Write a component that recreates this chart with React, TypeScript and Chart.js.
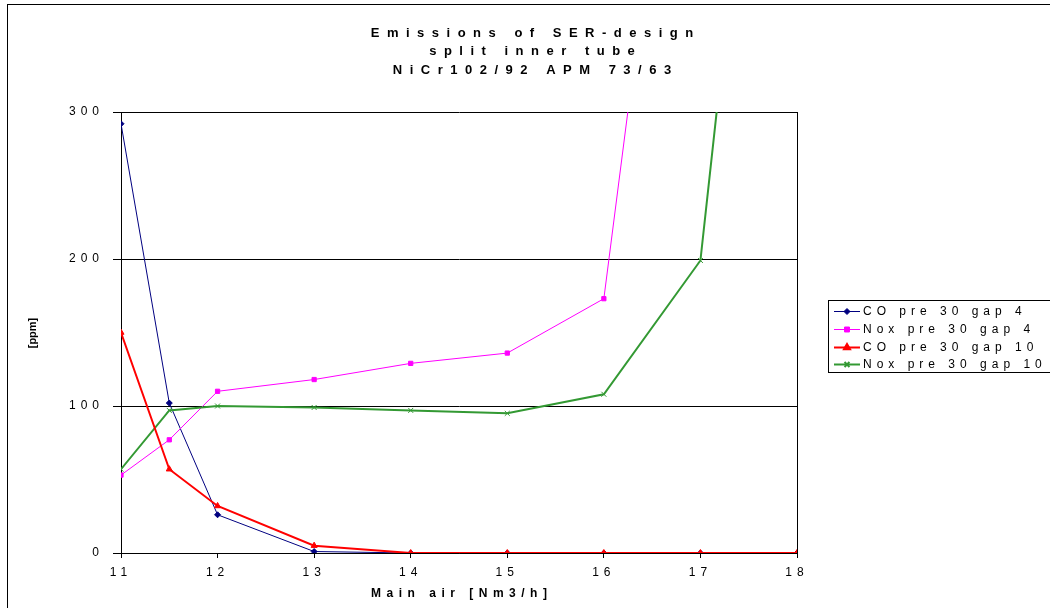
import React, { useEffect, useRef } from "react";
import { Chart, registerables } from "chart.js";
import { drawPoint } from "chart.js/helpers";

Chart.register(...registerables);

const titleLines = ["Emissions of SER-design", "split inner tube", "NiCr102/92 APM 73/63"];
const xTitle = "Main air [Nm3/h]";
const yTitle = "[ppm]";
const xValues = [11, 11.5, 12, 13, 14, 15, 16, 17, 18];
const coGap4 = [292, 102, 26, 1, 0, 0, 0, 0, 0];
const noxGap4 = [53, 77, 110, 118, 129, 136, 173, 685, null];
const coGap10 = [150, 57, 32, 5, 0, 0, 0, 0, 0];
const noxGap10 = [57, 97, 100, 99, 97, 95, 108, 199, 800];
const seriesLabels = ["CO pre 30 gap 4", "Nox pre 30 gap 4", "CO pre 30 gap 10", "Nox pre 30 gap 10"];
const yTicks = [0, 100, 200, 300];

const FONT = '"Liberation Sans", Arial, sans-serif';

const seriesStyles = [
  { color: "#000080", width: 1, point: "rectRot", radius: 3, order: 3 },
  { color: "#FF00FF", width: 1, point: "rect", radius: 3, order: 2 },
  { color: "#FF0000", width: 2, point: "triangle", radius: 3.5, order: 0 },
  { color: "#339933", width: 2, point: "crossRot", radius: 3.5, order: 1 },
];

const seriesValues = [coGap4, noxGap4, coGap10, noxGap10];

const decorPlugin = {
  id: "decor",
  beforeDraw(chart: any) {
    (chart.ctx as any).letterSpacing = "5px";
  },
  afterDraw(chart: any) {
    const ctx = chart.ctx as any;
    ctx.save();
    ctx.letterSpacing = "0px";
    ctx.strokeStyle = "#000";
    ctx.lineWidth = 1;
    ctx.strokeRect(7.5, 4.5, 1200, 800);

    ctx.fillStyle = "#000";
    ctx.textAlign = "center";
    ctx.textBaseline = "middle";
    ctx.font = `bold 13px ${FONT}`;
    ctx.letterSpacing = "7.5px";
    titleLines.forEach((t, i) => ctx.fillText(t, 532 + 3.75, 33 + i * 18.7));

    ctx.font = `bold 12px ${FONT}`;
    ctx.letterSpacing = "5.5px";
    ctx.fillText(xTitle, 459 + 2.75, 594);

    ctx.save();
    ctx.letterSpacing = "0px";
    ctx.translate(33, 333);
    ctx.rotate(-Math.PI / 2);
    ctx.font = `bold 11px ${FONT}`;
    ctx.fillText(yTitle, 0, 0);
    ctx.restore();

    // legend
    ctx.letterSpacing = "0px";
    ctx.strokeStyle = "#000";
    ctx.lineWidth = 1;
    ctx.strokeRect(828.5, 300.5, 400, 72);
    ctx.font = `12px ${FONT}`;
    ctx.textAlign = "left";
    seriesLabels.forEach((label, i) => {
      const s = seriesStyles[i];
      const y = Math.round(311 + i * 17.8) + 0.5;
      ctx.strokeStyle = s.color;
      ctx.fillStyle = s.color;
      ctx.lineWidth = s.width;
      ctx.beginPath();
      ctx.moveTo(834, y);
      ctx.lineTo(860, y);
      ctx.stroke();
      drawPoint(ctx, { pointStyle: s.point, radius: s.point === "rect" ? 3.5 : s.radius, rotation: 0, borderWidth: 1 }, 847, y);
      ctx.fillStyle = "#000";
      ctx.letterSpacing = "5px";
      ctx.fillText(label, 863, y);
      ctx.letterSpacing = "0px";
    });
    ctx.restore();
  },
};

export default function App() {
  const ref = useRef<HTMLCanvasElement | null>(null);
  useEffect(() => {
    document.body.style.margin = "0";
    const canvas = ref.current!;
    const chart = new Chart(canvas, {
      type: "line",
      data: {
        datasets: seriesValues.map((vals, i) => ({
          label: seriesLabels[i],
          data: xValues.map((x, j) => ({ x, y: vals[j] })),
          borderColor: seriesStyles[i].color,
          backgroundColor: seriesStyles[i].color,
          borderWidth: seriesStyles[i].width,
          pointStyle: seriesStyles[i].point as any,
          pointRadius: seriesStyles[i].radius,
          pointBorderWidth: 1,
          pointBorderColor: seriesStyles[i].color,
          pointBackgroundColor: seriesStyles[i].color,
          tension: 0,
          fill: false,
          spanGaps: false,
          order: seriesStyles[i].order,
        })),
      },
      options: {
        responsive: false,
        animation: false,
        events: [],
        layout: { padding: { left: 0, top: 112, right: 253, bottom: 0 } },
        plugins: { legend: { display: false }, title: { display: false }, tooltip: { enabled: false } },
        scales: {
          x: {
            type: "linear",
            min: 11,
            max: 18,
            afterFit: (s: any) => {
              s.height = 55;
            },
            ticks: {
              stepSize: 1,
              autoSkip: false,
              maxRotation: 0,
              color: "#000",
              padding: 7,
              font: { family: FONT, size: 12 },
            },
            grid: {
              drawOnChartArea: true,
              color: (c: any) => (c.tick && c.tick.value === 18 ? "#000" : "rgba(0,0,0,0)"),
              tickColor: "#000",
              tickLength: 5,
              lineWidth: 1,
            },
            border: { display: true, color: "#000", width: 1 },
          },
          y: {
            min: 0,
            max: 300,
            afterFit: (s: any) => {
              s.width = 121;
            },
            afterBuildTicks: (s: any) => {
              s.ticks = yTicks.map((v) => ({ value: v }));
            },
            ticks: {
              color: "#000",
              padding: 9,
              font: { family: FONT, size: 12 },
            },
            grid: {
              color: "#000",
              tickColor: "#000",
              tickLength: 8,
              lineWidth: 1,
            },
            border: { display: true, color: "#000", width: 1 },
          },
        },
      },
      plugins: [decorPlugin],
    } as any);
    return () => chart.destroy();
  }, []);
  return <canvas ref={ref} width={1050} height={608} style={{ display: "block" }} />;
}
